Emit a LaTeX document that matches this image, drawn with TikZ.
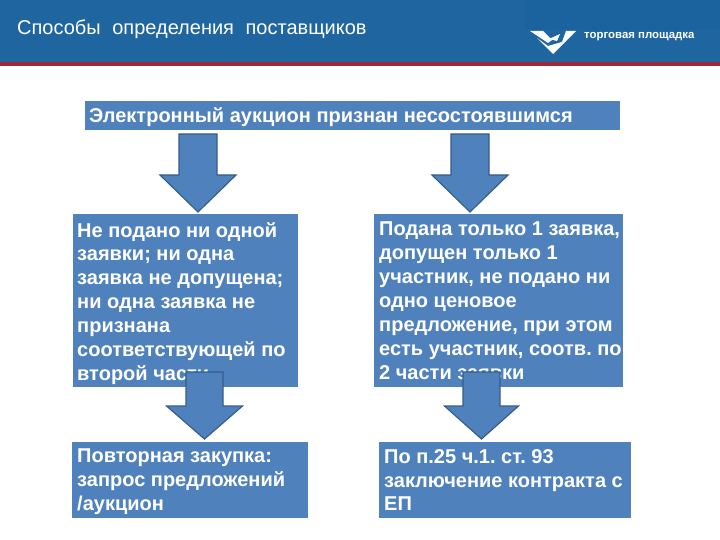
\documentclass[tikz,border=0pt]{standalone}
\usepackage{fontspec}
\setmainfont{Liberation Sans}
\definecolor{hdr}{HTML}{1F659F}
\definecolor{hdrb}{HTML}{1A639E}
\definecolor{redline}{HTML}{A02838}
\definecolor{boxb}{HTML}{4F81BD}
\definecolor{arrowline}{HTML}{385D8A}
\tikzset{
  blockbox/.style={fill=boxb,inner sep=0pt,anchor=north west},
  boxtext/.style={text=white,font=\bfseries\fontsize{20}{23.9}\selectfont\frenchspacing,align=left,anchor=north west,inner sep=0pt},
  downarrow/.style={draw=arrowline,line width=1.2pt,fill=boxb,line join=miter}
}
% centre x, shaft half width, head half width, top y, shoulder y, tip y
\newcommand{\blockarrow}[6]{\draw[downarrow] (#1-#2,#4) -- (#1+#2,#4) -- (#1+#2,#5) -- (#1+#3,#5) -- (#1,#6) -- (#1-#3,#5) -- (#1-#2,#5) -- cycle;}
\begin{document}
\begin{tikzpicture}[x=1pt,y=-1pt]
\useasboundingbox (0,0) rectangle (720,540);
\fill[white] (0,0) rectangle (720,540);
\fill[hdr] (0,0) rectangle (720,62);
\fill[hdrb] (525,0) rectangle (720,30);
\fill[redline] (0,62) rectangle (720,66);
\node[text=white,font=\fontsize{20}{22}\selectfont,anchor=west,inner sep=0pt] (title) at (17,29)
  {Способы\hspace{0.3em} определения\hspace{0.3em} поставщиков};
% logo
\fill[white] (530,31) -- (543,31) -- (552,40) -- (548,43) -- cycle;
\fill[white] (537,38) -- (548,46) -- (562,42) -- (566,31) -- (576,31) -- (553,54) -- cycle;
\fill[white] (549,39) -- (560,34) -- (557,41) -- cycle;
\node[text=white,font=\bfseries\fontsize{11.4}{13}\selectfont,anchor=west,inner sep=0pt] (brand) at (584,37) {торговая площадка};
% boxes
\node[blockbox,minimum width=535pt,minimum height=29pt] (top) at (85,101) {};
\node[blockbox,minimum width=225pt,minimum height=173pt] (bl) at (73,214) {};
\node[blockbox,minimum width=249pt,minimum height=173pt] (br) at (374,214) {};
\node[blockbox,minimum width=236pt,minimum height=76pt] (cl) at (72,442) {};
\node[blockbox,minimum width=252pt,minimum height=76pt] (cr) at (379,442) {};
% texts
\node[boxtext] (t0) at (89,107) {Электронный аукцион признан несостоявшимся};
\node[boxtext] (t1) at (77,222) {Не подано ни одной\\заявки; ни одна\\заявка не допущена;\\ни одна заявка не\\признана\\соответствующей по\\второй части};
\node[boxtext] (t2) at (379,222) {Подана только 1 заявка,\\допущен только 1\\участник, не подано ни\\одно ценовое\\предложение, при этом\\есть участник, соотв. по\\2 части заявки};
\node[boxtext] (t3) at (77,449) {Повторная закупка:\\запрос предложений\\/аукцион};
\node[boxtext] (t4) at (384,449) {По п.25 ч.1. ст. 93\\заключение контракта с\\ЕП};
% arrows
\blockarrow{198}{19}{38}{134}{175}{212}
\blockarrow{470}{19}{38}{134}{175}{212}
\blockarrow{204.5}{18.5}{38}{372}{406}{439}
\blockarrow{481.5}{18.5}{37}{372}{406}{439}
\end{tikzpicture}
\end{document}
